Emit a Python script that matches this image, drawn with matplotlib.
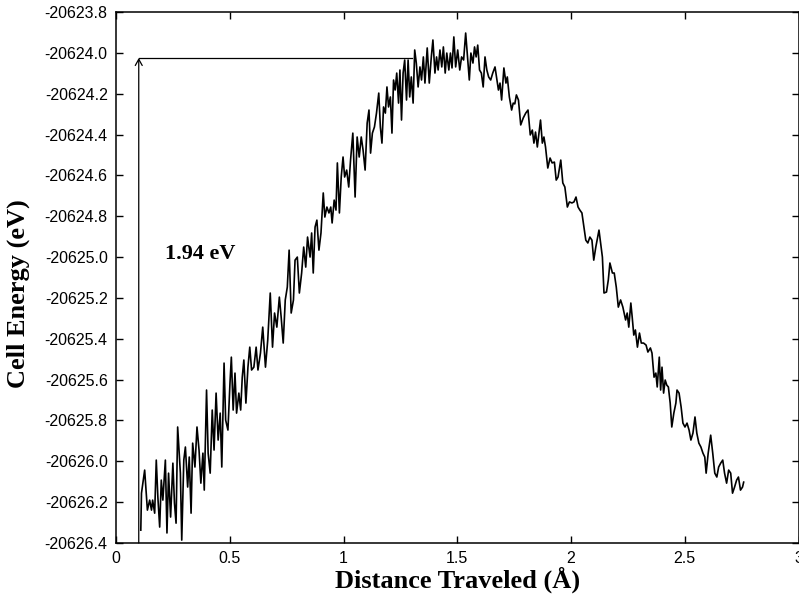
import matplotlib
matplotlib.use("Agg")
import matplotlib.pyplot as plt
from matplotlib.ticker import FixedLocator, FixedFormatter

# ---- data ----
distance = [
    0.109, 0.112, 0.126, 0.138, 0.148, 0.156, 0.161, 0.170, 0.177, 0.184,
    0.192, 0.199, 0.206, 0.217, 0.224, 0.231, 0.240, 0.250, 0.257, 0.264,
    0.271, 0.283, 0.289, 0.298, 0.305, 0.315, 0.322, 0.330, 0.337, 0.347,
    0.356, 0.365, 0.373, 0.382, 0.388, 0.398, 0.405, 0.414, 0.423, 0.431,
    0.440, 0.449, 0.458, 0.465, 0.475, 0.482, 0.492, 0.501, 0.507, 0.515,
    0.523, 0.530, 0.540, 0.548, 0.555, 0.562, 0.571, 0.580, 0.588, 0.596,
    0.606, 0.616, 0.624, 0.635, 0.645, 0.657, 0.667, 0.678, 0.688, 0.697,
    0.707, 0.718, 0.726, 0.735, 0.744, 0.753, 0.761, 0.770, 0.780, 0.787,
    0.797, 0.806, 0.816, 0.825, 0.834, 0.842, 0.853, 0.860, 0.867, 0.875,
    0.883, 0.892, 0.901, 0.911, 0.918, 0.927, 0.936, 0.944, 0.950, 0.959,
    0.967, 0.973, 0.982, 0.990, 0.998, 1.005, 1.014, 1.023, 1.031, 1.041,
    1.051, 1.060, 1.069, 1.078, 1.086, 1.095, 1.104, 1.112, 1.119, 1.127,
    1.136, 1.145, 1.155, 1.162, 1.169, 1.176, 1.184, 1.191, 1.198, 1.206,
    1.213, 1.220, 1.227, 1.234, 1.242, 1.248, 1.255, 1.262, 1.269, 1.277,
    1.284, 1.291, 1.298, 1.306, 1.313, 1.320, 1.328, 1.336, 1.343, 1.351,
    1.358, 1.368, 1.377, 1.386, 1.393, 1.402, 1.409, 1.416, 1.424, 1.432,
    1.439, 1.447, 1.454, 1.463, 1.470, 1.477, 1.485, 1.493, 1.502, 1.511,
    1.519, 1.528, 1.537, 1.546, 1.553, 1.560, 1.569, 1.576, 1.583, 1.590,
    1.598, 1.606, 1.614, 1.622, 1.630, 1.638, 1.647, 1.656, 1.666, 1.681,
    1.688, 1.695, 1.705, 1.714, 1.720, 1.729, 1.739, 1.746, 1.753, 1.760,
    1.769, 1.779, 1.790, 1.801, 1.811, 1.821, 1.830, 1.837, 1.844, 1.852,
    1.859, 1.866, 1.874, 1.881, 1.888, 1.898, 1.908, 1.917, 1.927, 1.935,
    1.943, 1.955, 1.964, 1.973, 1.984, 1.993, 2.004, 2.013, 2.022, 2.031,
    2.039, 2.048, 2.057, 2.065, 2.074, 2.083, 2.092, 2.100, 2.109, 2.123,
    2.138, 2.145, 2.156, 2.164, 2.171, 2.182, 2.190, 2.199, 2.208, 2.218,
    2.228, 2.240, 2.247, 2.254, 2.263, 2.269, 2.276, 2.283, 2.292, 2.301,
    2.309, 2.319, 2.330, 2.338, 2.349, 2.356, 2.365, 2.373, 2.379, 2.388,
    2.394, 2.400, 2.407, 2.414, 2.421, 2.428, 2.436, 2.443, 2.452, 2.461,
    2.466, 2.475, 2.484, 2.492, 2.501, 2.510, 2.519, 2.527, 2.536, 2.545,
    2.553, 2.562, 2.571, 2.580, 2.588, 2.594, 2.603, 2.614, 2.623, 2.632,
    2.641, 2.649, 2.658, 2.667, 2.675, 2.684, 2.693, 2.702, 2.710, 2.719,
    2.728, 2.736, 2.745, 2.754, 2.759,
]

energy = [
    -20626.337, -20626.156, -20626.043, -20626.239, -20626.190, -20626.239, -20626.190, -20626.254, -20625.994, -20626.175,
    -20626.322, -20626.092, -20626.190, -20625.994, -20626.351, -20626.058, -20626.273, -20626.009, -20626.205, -20626.303,
    -20625.832, -20626.058, -20626.386, -20625.994, -20625.930, -20626.126, -20625.979, -20626.254, -20625.911, -20626.028,
    -20625.832, -20625.945, -20626.107, -20625.960, -20626.141, -20625.651, -20625.960, -20626.058, -20625.749, -20625.945,
    -20625.666, -20625.896, -20625.764, -20626.028, -20625.519, -20625.798, -20625.847, -20625.617, -20625.490, -20625.749,
    -20625.568, -20625.764, -20625.666, -20625.749, -20625.588, -20625.504, -20625.715, -20625.539, -20625.441, -20625.553,
    -20625.539, -20625.441, -20625.553, -20625.470, -20625.343, -20625.539, -20625.406, -20625.176, -20625.441, -20625.274,
    -20625.343, -20625.196, -20625.294, -20625.421, -20625.210, -20625.147, -20624.966, -20625.274, -20625.210, -20625.015,
    -20625.000, -20625.176, -20625.078, -20624.951, -20625.049, -20624.902, -20625.000, -20624.882, -20625.078, -20624.853,
    -20624.819, -20624.966, -20624.882, -20624.686, -20624.804, -20624.755, -20624.784, -20624.755, -20624.833, -20624.721,
    -20624.770, -20624.539, -20624.784, -20624.608, -20624.510, -20624.608, -20624.574, -20624.657, -20624.525, -20624.393,
    -20624.706, -20624.412, -20624.510, -20624.412, -20624.476, -20624.574, -20624.344, -20624.280, -20624.491, -20624.393,
    -20624.363, -20624.295, -20624.197, -20624.363, -20624.442, -20624.265, -20624.295, -20624.167, -20624.265, -20624.216,
    -20624.393, -20624.133, -20624.182, -20624.099, -20624.246, -20624.084, -20624.329, -20624.099, -20624.035, -20624.231,
    -20624.035, -20624.216, -20624.118, -20624.246, -20623.986, -20624.050, -20624.167, -20624.069, -20624.133, -20624.020,
    -20624.148, -20623.976, -20624.148, -20624.020, -20623.937, -20624.099, -20624.020, -20624.084, -20623.986, -20624.069,
    -20623.971, -20624.099, -20624.001, -20624.084, -20624.001, -20624.074, -20623.922, -20624.069, -20623.986, -20624.084,
    -20624.020, -20624.035, -20623.903, -20624.035, -20624.133, -20624.001, -20624.050, -20623.971, -20624.020, -20623.962,
    -20624.084, -20624.099, -20624.167, -20624.020, -20624.084, -20624.118, -20624.133, -20624.099, -20624.069, -20624.182,
    -20624.148, -20624.231, -20624.074, -20624.148, -20624.118, -20624.216, -20624.280, -20624.246, -20624.250, -20624.206,
    -20624.231, -20624.353, -20624.319, -20624.295, -20624.280, -20624.402, -20624.378, -20624.442, -20624.388, -20624.461,
    -20624.393, -20624.329, -20624.442, -20624.412, -20624.461, -20624.564, -20624.515, -20624.539, -20624.535, -20624.623,
    -20624.608, -20624.525, -20624.637, -20624.657, -20624.755, -20624.730, -20624.735, -20624.730, -20624.706, -20624.755,
    -20624.770, -20624.784, -20624.853, -20624.917, -20624.931, -20624.902, -20624.917, -20625.015, -20624.951, -20624.868,
    -20625.000, -20625.176, -20625.171, -20625.112, -20625.029, -20625.078, -20625.078, -20625.147, -20625.245, -20625.210,
    -20625.245, -20625.308, -20625.274, -20625.343, -20625.225, -20625.294, -20625.382, -20625.357, -20625.441, -20625.372,
    -20625.421, -20625.421, -20625.431, -20625.465, -20625.445, -20625.470, -20625.588, -20625.568, -20625.636, -20625.490,
    -20625.651, -20625.539, -20625.666, -20625.602, -20625.627, -20625.636, -20625.715, -20625.832, -20625.764, -20625.715,
    -20625.651, -20625.666, -20625.734, -20625.813, -20625.832, -20625.813, -20625.847, -20625.896, -20625.862, -20625.783,
    -20625.862, -20625.911, -20625.930, -20625.960, -20625.979, -20626.058, -20625.960, -20625.872, -20625.960, -20626.058,
    -20626.077, -20626.028, -20626.009, -20625.994, -20626.058, -20626.107, -20626.043, -20626.058, -20626.156, -20626.126,
    -20626.092, -20626.077, -20626.141, -20626.126, -20626.102,
]

x_ticks = [0, 0.5, 1, 1.5, 2, 2.5, 3]
x_tick_labels = ["0", "0.5", "1", "1.5", "2", "2.5", "3"]
y_ticks = [-20626.4, -20626.2, -20626.0, -20625.8, -20625.6, -20625.4, -20625.2,
           -20625.0, -20624.8, -20624.6, -20624.4, -20624.2, -20624.0, -20623.8]
y_tick_labels = ["-20626.4", "-20626.2", "-20626.0", "-20625.8", "-20625.6", "-20625.4",
                 "-20625.2", "-20625.0", "-20624.8", "-20624.6", "-20624.4", "-20624.2",
                 "-20624.0", "-20623.8"]

barrier_x = 0.1
barrier_low = -20626.4
barrier_high = -20624.025
barrier_end_x = 1.30
barrier_label = "1.94 eV"

# ---- figure ----
W, H = 799, 597
fig = plt.figure(figsize=(W / 100, H / 100), dpi=100)
ax = fig.add_axes([116 / W, 1 - 543 / H, (798.5 - 116) / W, (543 - 12) / H])

ax.plot(distance, energy, color="black", lw=1.2)

# barrier annotation
ax.annotate("", xy=(barrier_x, barrier_high), xytext=(barrier_x, barrier_low),
            arrowprops=dict(arrowstyle="->,head_length=0.45,head_width=0.25",
                            color="black", lw=0.9, shrinkA=0, shrinkB=0))
ax.plot([barrier_x, barrier_end_x], [barrier_high, barrier_high], color="black", lw=0.9)
ax.text(0.215, -20624.985, barrier_label, fontsize=16, fontweight="bold",
        family="Liberation Serif", ha="left", va="center")

ax.set_xlim(0, 3)
ax.set_ylim(-20626.4, -20623.8)
ax.xaxis.set_major_locator(FixedLocator(x_ticks))
ax.xaxis.set_major_formatter(FixedFormatter(x_tick_labels))
ax.yaxis.set_major_locator(FixedLocator(y_ticks))
ax.yaxis.set_major_formatter(FixedFormatter(y_tick_labels))
ax.tick_params(direction="in", length=5, width=1.0, top=True, right=True,
               labelsize=11.5, pad=6, colors="black")
for lab in ax.get_xticklabels() + ax.get_yticklabels():
    lab.set_family("Liberation Sans")
for sp in ax.spines.values():
    sp.set_linewidth(1.1)

fig.text(458 / W, 1 - 580 / H, "Distance Traveled (\u00c5)", fontsize=19, fontweight="bold",
         family="Liberation Serif", ha="center", va="center")
fig.text(18 / W, 1 - 294 / H, "Cell Energy (eV)", fontsize=19, fontweight="bold",
         family="Liberation Serif", ha="center", va="center", rotation=90)

fig.savefig("out.png", dpi=100)
